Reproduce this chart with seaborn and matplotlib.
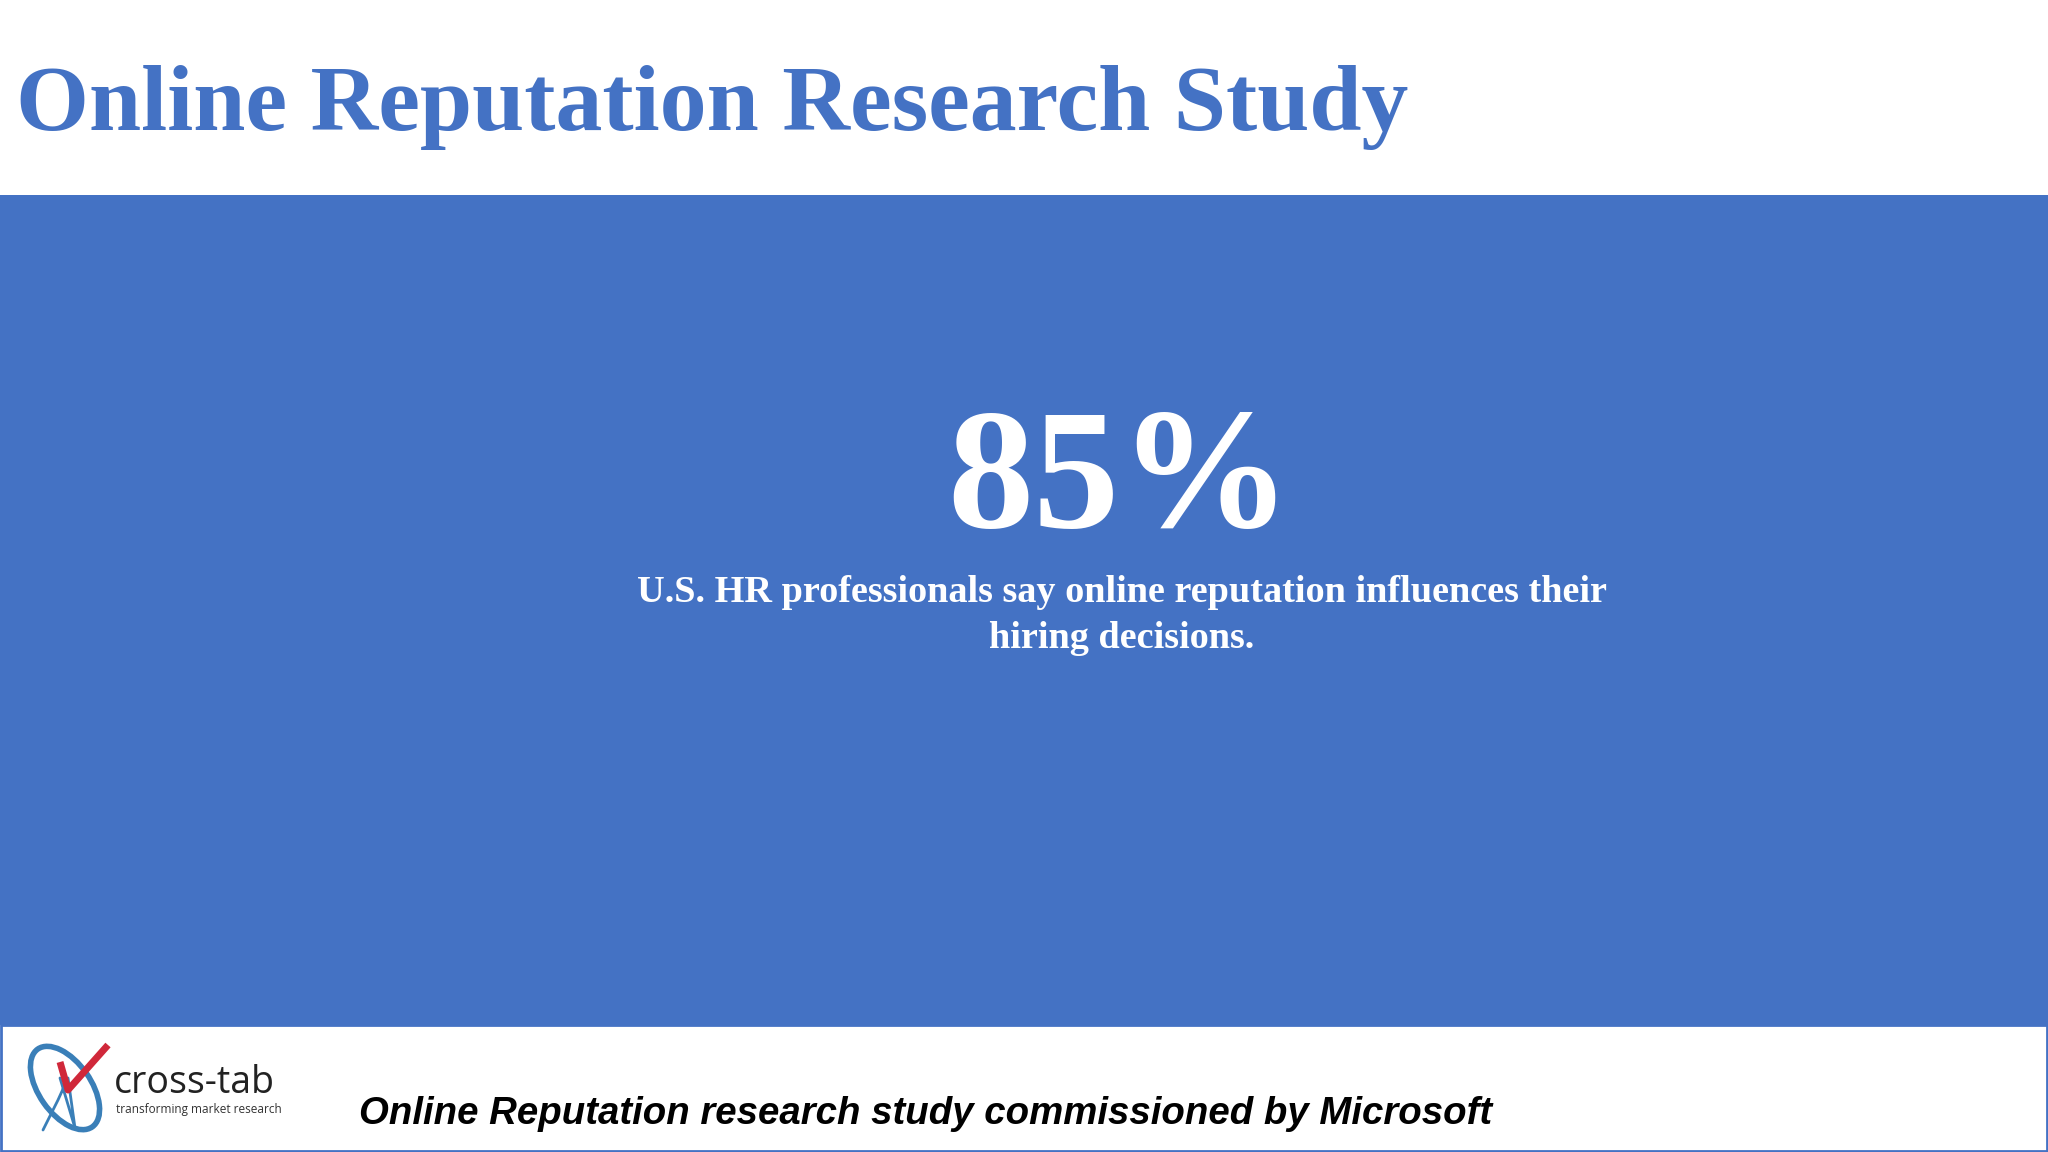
import matplotlib
matplotlib.use("Agg")
import matplotlib.pyplot as plt
import matplotlib.patches as mpatches
import seaborn as sns

# --- texts / values ---
title = "Online Reputation Research Study"
stat_value = 85
stat_caption = ["U.S. HR professionals say online reputation influences their",
                "hiring decisions."]
footer = "Online Reputation research study commissioned by Microsoft"
logo_name = "cross-tab"
logo_tag = "transforming market research"

blue = "#4472C4"

sns.set_theme(style="white")
plt.rcParams['font.family'] = ['Liberation Serif', 'DejaVu Serif']

fig = plt.figure(figsize=(20.48, 11.52), dpi=100)
ax = fig.add_axes([0, 0, 1, 1])
ax.set_xlim(0, 2048)
ax.set_ylim(1152, 0)
ax.axis("off")

# blue band
ax.add_patch(mpatches.Rectangle((0, 195), 2048, 830, color=blue, lw=0))
# footer frame
ax.add_patch(mpatches.Rectangle((1, 1025), 2046, 126, fill=False, ec=blue, lw=2))

ax.text(16, 108, title, color=blue, fontsize=67.5, fontweight="bold",
        ha="left", va="center")

ax.text(1119, 486, f"{stat_value}%", color="white", fontsize=124,
        fontweight="bold", ha="center", va="center")
for i, line in enumerate(stat_caption):
    ax.text(1122, 592 + i * 46, line, color="white", fontsize=27.5,
            fontweight="bold", ha="center", va="center")

ax.text(359, 1114, footer, color="black", fontsize=27.6, fontweight="bold",
        fontstyle="italic", family=["Liberation Sans", "DejaVu Sans"],
        ha="left", va="center")

# logo
ax.add_patch(mpatches.Ellipse((65, 1088), 52, 95, angle=-35, fill=False,
                              ec="#3a7fb8", lw=4))
ax.plot([43, 58, 68, 75, 60], [1130, 1100, 1078, 1128, 1078], color="#3a7fb8", lw=2)
ax.plot([60, 68, 108], [1062, 1090, 1045], color="#d0283a", lw=5,
        solid_capstyle="butt")
ax.text(114, 1083, logo_name, color="#222222", fontsize=27,
        family=["Open Sans", "DejaVu Sans"], ha="left", va="center")
ax.text(116, 1110, logo_tag, color="#333333", fontsize=8.5,
        family=["Open Sans", "DejaVu Sans"], ha="left", va="center")

fig.savefig("out.png", dpi=100)
